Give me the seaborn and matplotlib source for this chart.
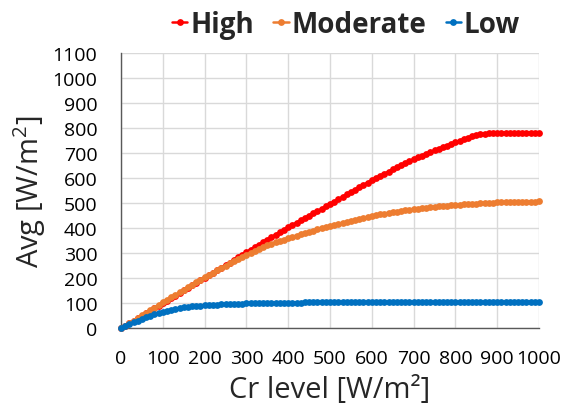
import numpy as np
import pandas as pd
import matplotlib
matplotlib.use("Agg")
import matplotlib.pyplot as plt
import seaborn as sns

cr_level = list(range(0, 1001, 10))

high = [0,
        10, 20, 31, 41, 51, 61, 71, 81, 91, 101,
        111, 121, 131, 141, 152, 162, 172, 182, 192, 202,
        212, 222, 232, 243, 253, 263, 273, 284, 294, 305,
        315, 325, 335, 345, 355, 365, 375, 385, 395, 405,
        414, 423, 433, 442, 451, 460, 469, 478, 488, 497,
        507, 516, 526, 536, 545, 555, 564, 574, 583, 593,
        602, 610, 619, 627, 636, 644, 652, 660, 669, 677,
        684, 691, 698, 705, 712, 718, 725, 731, 738, 744,
        750, 757, 763, 768, 773, 776, 779, 780, 781, 782,
        782, 783, 783, 783, 783, 783, 783, 783, 783, 783]

moderate = [0,
            10, 21, 31, 42, 52, 62, 73, 83, 94, 104,
            114, 124, 134, 144, 154, 164, 174, 184, 194, 204,
            214, 223, 233, 242, 251, 260, 269, 279, 287, 295,
            303, 311, 318, 325, 332, 338, 344, 350, 355, 360,
            366, 371, 376, 381, 386, 391, 396, 401, 405, 410,
            414, 418, 422, 426, 430, 434, 438, 442, 446, 450,
            453, 456, 459, 462, 465, 467, 470, 472, 475, 477,
            479, 481, 483, 485, 487, 488, 490, 491, 493, 494,
            495, 496, 497, 498, 499, 500, 501, 502, 503, 504,
            504, 505, 505, 506, 506, 506, 507, 507, 507, 508]

low = [0,
       9, 17, 24, 31, 38, 44, 50, 56, 62, 67,
       71, 75, 78, 81, 84, 86, 88, 90, 91, 92,
       93, 94, 95, 96, 96.8, 97.5, 98.1, 98.7, 99.2, 99.7,
       100.1, 100.5, 100.9, 101.2, 101.5, 101.8, 102.1, 102.3, 102.5, 102.7,
       102.9, 103.1, 103.2, 103.3, 103.4, 103.5, 103.6, 103.7, 103.8, 103.9,
       103.9, 104, 104, 104, 104, 104, 104, 104, 104, 104,
       104, 104, 104, 104, 104, 104, 104, 104, 104, 104,
       104, 104, 104, 104, 104, 104, 104, 104, 104, 104,
       104, 104, 104, 104, 104, 104, 104, 104, 104, 104,
       104, 104, 104, 104, 104, 104, 104, 104, 104, 104]

series_names = ["High", "Moderate", "Low"]
series_colors = ["#FF0000", "#ED7D31", "#0070C0"]
x_ticks = list(range(0, 1001, 100))
y_ticks = list(range(0, 1101, 100))

sns.set_theme(style="white")
plt.rcParams['font.family'] = ['Open Sans', 'DejaVu Sans']

fig = plt.figure(figsize=(5.71, 4.10), dpi=100)
ax = fig.add_axes([121/571, 1-329.3/410, (539-121)/571, (329.3-54.3)/410])

for name, vals, col in zip(series_names, [high, moderate, low], series_colors):
    sns.lineplot(x=cr_level, y=vals, ax=ax, color=col, marker='o',
                 markersize=4.9, markeredgewidth=0, linewidth=1.8,
                 label=name, legend=False, zorder=3, clip_on=False)

ax.set_xlim(0, 1000)
ax.set_ylim(0, 1100)
ax.set_xticks(x_ticks)
ax.set_yticks(y_ticks)
ax.grid(True, color="#D9D9D9", linewidth=1.0)
ax.set_axisbelow(True)
for s in ["top", "right"]:
    ax.spines[s].set_visible(False)
ax.spines["left"].set_color("#595959")
ax.spines["bottom"].set_color("#595959")
ax.spines["left"].set_linewidth(1.0)
ax.spines["bottom"].set_linewidth(1.0)
ax.tick_params(axis='both', length=0, labelsize=14, colors='black')
ax.tick_params(axis='x', pad=15)
ax.tick_params(axis='y', pad=17)

ax.set_xlabel("Cr level [W/m²]", fontsize=21, labelpad=6)
ax.set_ylabel("Avg [W/m$^\\mathregular{2}$]", fontsize=21, labelpad=3)

handles, labels = ax.get_legend_handles_labels()
fig.legend(handles, labels, loc='center', bbox_to_anchor=(346/571, 1-25/410),
           ncol=3, frameon=False, handlelength=0.55, handletextpad=0.1,
           columnspacing=0.7, prop={'weight': 'bold', 'size': 20})

fig.savefig("out.png", dpi=100)
